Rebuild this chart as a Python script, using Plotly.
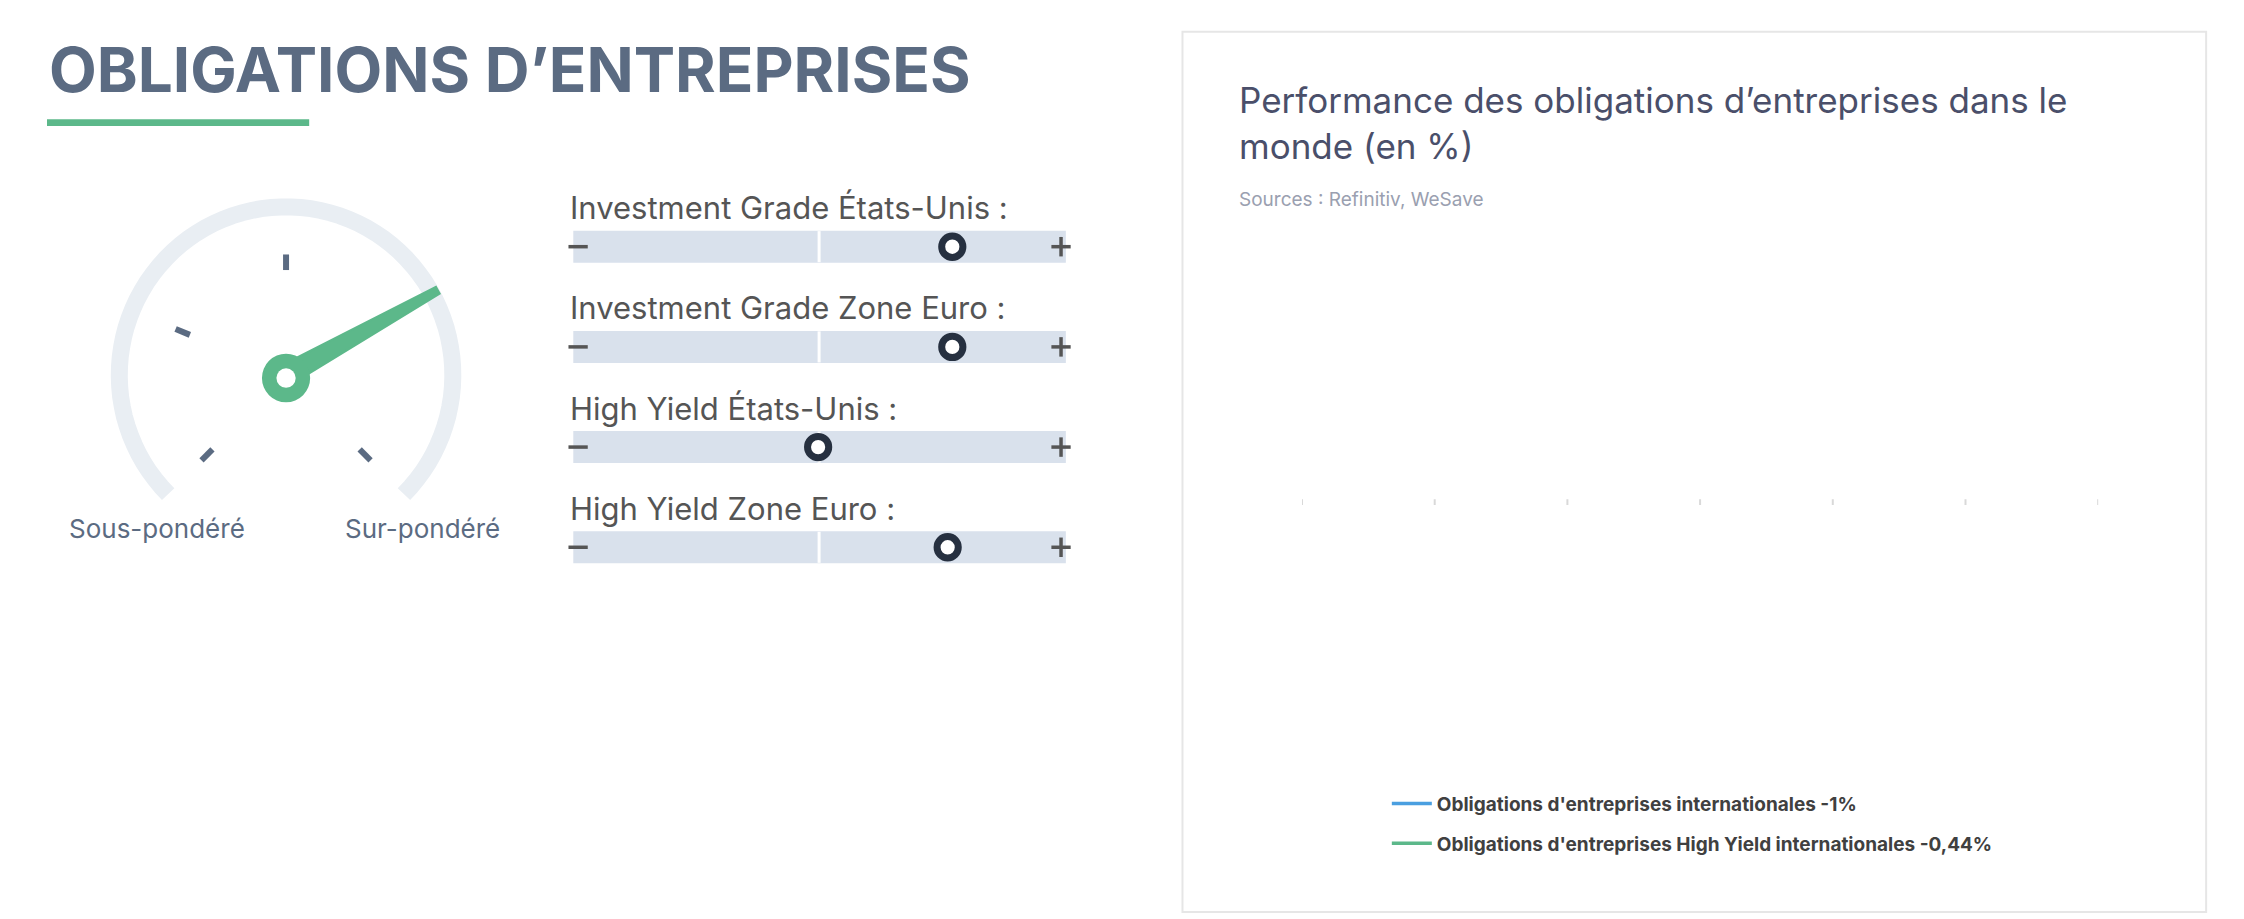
import numpy as np
import plotly.graph_objects as go

# jours depuis le 31-déc.
jours_ig = [0, 0.8, 1.75, 4.9, 6.9, 7.9, 9, 11.9, 12.8, 14.6, 15.8, 19, 20.2, 21, 21.9, 23, 26, 28.9, 30,
            33.9, 35.2, 36, 37, 39.9, 40.9, 41.8, 43.8, 46.6, 48, 49, 50.1, 53.8, 54.9, 55.9, 57.8, 60.9,
            61.9, 63.1, 63.9, 65.3, 68.1, 69.1, 70, 71.9, 74.9, 75.9, 77.3, 79.2, 82, 83, 84, 86.1, 89, 90]
perf_ig = [0.01, 0, -0.1, 0, 0.31, 0.23, 0.29, 0.39, 0.39, 0.51, 0.43, 0.47, 0.37, 0.38, 0.45, 0.41, 0.55,
           0.80, 0.77, 0.69, 0.79, 0.82, 0.82, 0.90, 1.02, 1.0, 1.14, 1.17, 1.14, 1.17, 1.14, 1.29, 1.26,
           1.26, 1.34, 0.99, 0.58, 0.90, 0.62, 0.22, 0.05, 0.45, -0.09, -0.43, -0.33, -0.17, -0.28, -0.92,
           -0.83, -0.90, -0.61, -1.33, -1.12, -0.98]

jours_hy = [0, 1, 1.75, 4.9, 6, 6.8, 7.8, 8.9, 11.9, 12.8, 13.6, 15.1, 15.9, 19, 20, 21.1, 21.9, 23, 26,
            26.8, 28.9, 29.8, 32.8, 33.9, 34.8, 36, 37, 40, 40.9, 41.8, 42.9, 44.1, 46.7, 48, 49.1, 50.1,
            51, 53.8, 54.9, 55.9, 56.9, 57.8, 60.9, 61.9, 62.9, 63.9, 65.2, 68.1, 69.1, 70, 71.9, 74.8,
            75.9, 77.2, 79.2, 82, 83, 84, 86.1, 89, 90]
perf_hy = [0.01, -0.01, 0, 0.18, 0.28, 0.29, 0.28, 0.43, 0.43, 0.51, 0.46, 0.55, 0.57, 0.61, 0.36, 0.58,
           0.73, 0.67, 0.71, 0.68, 0.47, 0.48, 0.59, 0.51, 0.51, 0.42, 0.62, 0.77, 0.85, 0.80, 0.70, 0.73,
           0.77, 0.71, 0.92, 0.89, 0.92, 0.87, 0.77, 0.85, 0.80, 0.61, 0.59, 0.46, 0.81, 0.62, 0.22, 0.31,
           0.53, 0.29, -0.51, -0.28, 0.01, -0.21, -0.85, -0.46, -0.65, -0.33, -1.34, -1.06, -0.41]

tick_jours = [0, 15, 30, 45, 60, 75, 90]
tick_dates = ['31-déc.', '15-janv.', '30-janv.', '14-févr.', '1-mars', '16-mars', '31-mars']
y_ticks = [-2, -1, 0, 1, 2]
y_labels = ['-2%', '-1%', '0%', '1%', '2%']

curseurs = ['Investment Grade États-Unis :', 'Investment Grade Zone Euro :',
            'High Yield États-Unis :', 'High Yield Zone Euro :']
positions = [0.79, 0.79, 0.5, 0.78]  # 0 = sous-pondéré, 1 = sur-pondéré

W, H = 2244, 919
GRIS = '#5b6b82'
VERT = '#5cb88a'
BLEU = '#4a9fe0'
FONT = 'Inter'

fig = go.Figure()
fig.add_trace(go.Scatter(x=jours_ig, y=perf_ig, mode='lines', line=dict(color=BLEU, width=3.5),
                         name="Obligations d'entreprises internationales -1%", legendgroup='a'))
fig.add_trace(go.Scatter(x=jours_hy, y=perf_hy, mode='lines', line=dict(color=VERT, width=3.5),
                         name="Obligations d'entreprises High Yield internationales -0,44%", legendgroup='b'))
# axe "pixel" pour le décor
fig.add_trace(go.Scatter(x=[], y=[], xaxis='x2', yaxis='y2', showlegend=False))

shapes = []
annotations = []

def px(**kw):
    return dict(xref='x2', yref='y2', **kw)

# cadre du graphique
shapes.append(px(type='rect', x0=1178, y0=11, x1=2240, y1=916, line=dict(color='#e6e6e6', width=2),
                 fillcolor='rgba(0,0,0,0)', layer='below'))
# soulignement du titre
shapes.append(px(type='rect', x0=0, y0=101, x1=272, y1=108, line=dict(width=0), fillcolor=VERT))

# jauge
cx, cy, r = 248, 364, 173
ang = np.radians(np.linspace(225, -45, 80))
pts = ' L '.join(f'{cx + r*np.cos(a):.1f},{cy - r*np.sin(a):.1f}' for a in ang)
shapes.append(px(type='path', path='M ' + pts, line=dict(color='#e9eef3', width=17)))
for d in [90, 157.5, 225, -45]:
    a = np.radians(d)
    shapes.append(px(type='line', x0=cx + 108*np.cos(a), y0=cy - 108*np.sin(a),
                     x1=cx + 124*np.cos(a), y1=cy - 124*np.sin(a), line=dict(color=GRIS, width=6)))
a = np.radians(29)
ux, uy = np.cos(a), -np.sin(a)
nx, ny = -uy, ux
L = 180
poly = [(cx + nx*11, cy + ny*11), (cx + ux*L + nx*4, cy + uy*L + ny*4),
        (cx + ux*L - nx*4, cy + uy*L - ny*4), (cx - nx*11, cy - ny*11)]
shapes.append(px(type='path', path='M ' + ' L '.join(f'{x:.1f},{y:.1f}' for x, y in poly) + ' Z',
                 fillcolor=VERT, line=dict(color=VERT, width=2)))
shapes.append(px(type='circle', x0=cx-25, y0=cy+3-25, x1=cx+25, y1=cy+3+25, fillcolor=VERT,
                 line=dict(width=0)))
shapes.append(px(type='circle', x0=cx-10, y0=cy+3-10, x1=cx+10, y1=cy+3+10, fillcolor='white',
                 line=dict(width=0)))
annotations.append(px(x=114, y=522, text='Sous-pondéré', showarrow=False,
                      font=dict(family=FONT, size=26, color=GRIS)))
annotations.append(px(x=390, y=522, text='Sur-pondéré', showarrow=False,
                      font=dict(family=FONT, size=26, color=GRIS)))

# curseurs
bx0, bx1 = 530, 1073
for i, (lab, p) in enumerate(zip(curseurs, positions)):
    yc = 232 + i*103
    annotations.append(px(x=541, y=yc-40, text=lab, showarrow=False, xanchor='left',
                          font=dict(family=FONT, size=31, color='#555555')))
    shapes.append(px(type='path', line=dict(color='#d9e1ec', width=32),
                     path=f'M {bx0+16},{yc} L {bx1-16},{yc}'))
    shapes.append(px(type='line', x0=801, x1=801, y0=yc-16, y1=yc+16, line=dict(color='white', width=3)))
    shapes.append(px(type='line', x0=541, x1=561, y0=yc, y1=yc, line=dict(color='#555555', width=3.5)))
    shapes.append(px(type='line', x0=1042, x1=1062, y0=yc, y1=yc, line=dict(color='#555555', width=3.5)))
    shapes.append(px(type='line', x0=1052, x1=1052, y0=yc-10, y1=yc+10, line=dict(color='#555555', width=3.5)))
    kx = 560 + p*(1040 - 560)
    shapes.append(px(type='circle', x0=kx-11, x1=kx+11, y0=yc-11, y1=yc+11, fillcolor='white',
                     line=dict(color='#263040', width=7)))

# titres
annotations.append(px(x=0, y=50, text='OBLIGATIONS D’ENTREPRISES', showarrow=False, xanchor='left',
                      font=dict(family=FONT, size=62, color=GRIS, weight='bold')))
annotations.append(px(x=1235, y=105, text='Performance des obligations d’entreprises dans le<br>monde (en %)',
                      showarrow=False, xanchor='left', align='left',
                      font=dict(family=FONT, size=35, color='#4a4f6a')))
annotations.append(px(x=1235, y=183, text='Sources : Refinitiv, WeSave', showarrow=False, xanchor='left',
                      font=dict(family=FONT, size=19, color='#9aa0b0')))

# petites graduations sur la ligne 0
for t in tick_jours:
    shapes.append(dict(type='line', xref='x', yref='y', x0=t, x1=t, y0=0, y1=-0.05,
                       line=dict(color='#d9d9d9', width=2)))

fig.update_layout(
    width=W, height=H, autosize=False, margin=dict(l=0, r=0, t=0, b=0),
    paper_bgcolor='white', plot_bgcolor='white',
    font=dict(family=FONT),
    shapes=shapes, annotations=annotations,
    xaxis=dict(domain=[1302/W, 2128/W], range=[0, 90], tickvals=tick_jours, ticktext=tick_dates,
               showgrid=False, zeroline=False, showline=False, ticks='',
               tickfont=dict(size=21, color='#404040', weight='bold'), anchor='y'),
    yaxis=dict(domain=[1-733/H, 1-250/H], range=[-2, 2], tickvals=y_ticks, ticktext=y_labels,
               showgrid=True, gridcolor='#cccccc', griddash='dot', gridwidth=2,
               zeroline=True, zerolinecolor='#d9d9d9', zerolinewidth=2, ticks='', ticklabelstandoff=22,
               tickfont=dict(size=21, color='#404040', weight='bold'), anchor='x'),
    xaxis2=dict(domain=[0, 1], range=[0, W], visible=False, anchor='y2', fixedrange=True),
    yaxis2=dict(domain=[0, 1], range=[H, 0], visible=False, anchor='x2', fixedrange=True),
    legend=dict(x=1390/W, y=1-785/H, xanchor='left', yanchor='top', tracegroupgap=12,
                font=dict(size=19, color='#404040', weight='bold'), itemwidth=40),
    showlegend=True,
)

fig.write_html("out.html")
